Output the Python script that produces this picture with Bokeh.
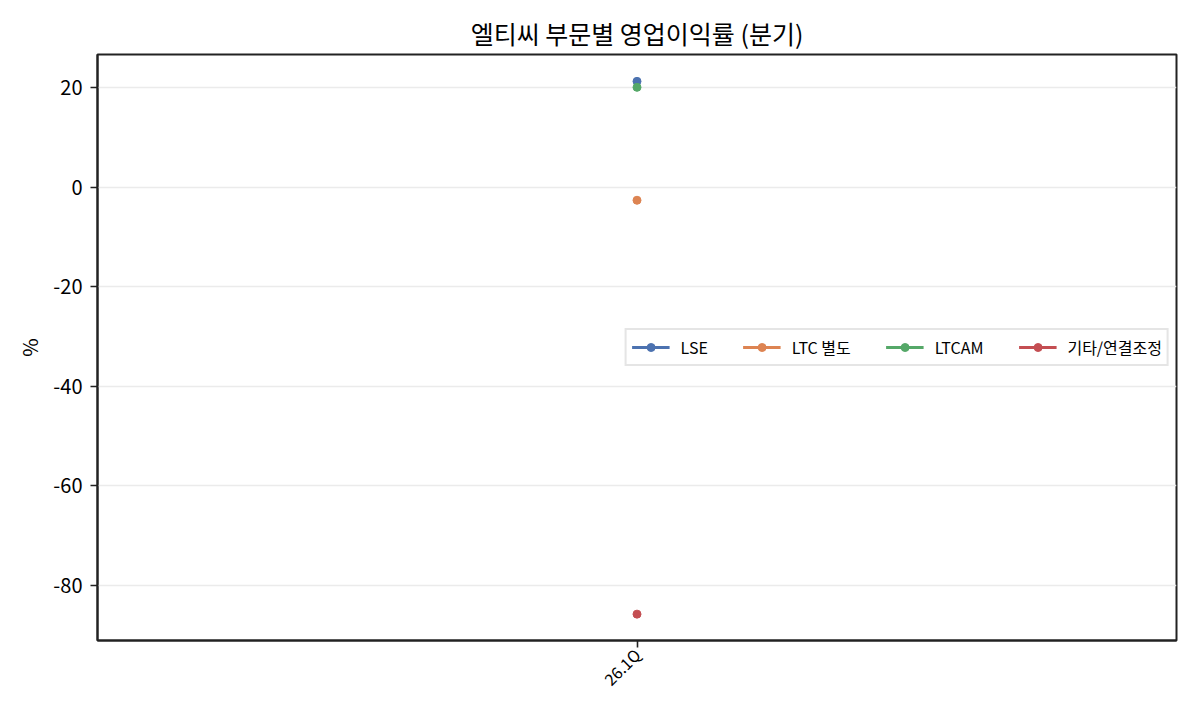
import math

from bokeh.embed import file_html
from bokeh.models import FixedTicker, PrintfTickFormatter, Range1d
from bokeh.plotting import figure
from bokeh.resources import INLINE

FONT = "Noto Sans CJK KR"

# data
quarters = ["26.1Q"]
lse = [21.3]
ltc = [-2.6]
ltcam = [20.1]
other = [-85.8]

series = [
    ("LSE", lse, "#4C72B0"),
    ("LTC 별도", ltc, "#DD8452"),
    ("LTCAM", ltcam, "#55A868"),
    ("기타/연결조정", other, "#C44E52"),
]

p = figure(
    x_range=quarters,
    y_range=Range1d(-91.1, 26.7),
    width=1184,
    height=704,
    title="엘티씨 부문별 영업이익률 (분기)",
    output_backend="svg",
    toolbar_location=None,
    min_border_left=97,
    min_border_right=8,
    min_border_top=54,
    min_border_bottom=64,
)

for name, vals, color in series:
    p.line(quarters, vals, color=color, line_width=3, legend_label=name)
    p.scatter(quarters, vals, color=color, size=8, legend_label=name)

# title
p.title.align = "center"
p.title.text_font = FONT
p.title.text_font_size = "25px"
p.title.text_font_style = "normal"
p.title.text_color = "black"
p.title.standoff = 8

# frame and grid
p.outline_line_color = "#222222"
p.outline_line_width = 2
p.outline_line_alpha = 1
p.xgrid.grid_line_color = None
p.ygrid.grid_line_color = "#ebebeb"
p.ygrid.grid_line_width = 1.6

# axes
p.yaxis.ticker = FixedTicker(ticks=[-80, -60, -40, -20, 0, 20])
p.yaxis.formatter = PrintfTickFormatter(format="%d")
p.yaxis.axis_label = "%"
p.yaxis.axis_label_text_font = FONT
p.yaxis.axis_label_text_font_size = "20px"
p.yaxis.axis_label_text_font_style = "normal"
p.yaxis.axis_label_text_color = "black"
p.yaxis.axis_label_standoff = 6
for ax in (p.xaxis, p.yaxis):
    ax.axis_line_color = "#222222"
    ax.axis_line_width = 2
    ax.major_tick_line_color = "#222222"
    ax.major_tick_line_width = 1.6
    ax.major_tick_out = 7
    ax.major_tick_in = 0
    ax.minor_tick_line_color = None
    ax.major_label_text_font = FONT
    ax.major_label_text_color = "black"
    ax.major_label_standoff = 8
p.yaxis.major_label_text_font_size = "20px"
p.xaxis.major_label_text_font_size = "16px"
p.xaxis.major_label_standoff = 4
p.xaxis.major_label_orientation = math.pi / 4

# legend
p.legend.orientation = "horizontal"
p.legend.location = "right"
p.legend.label_text_font = FONT
p.legend.label_text_font_size = "16px"
p.legend.label_text_color = "black"
p.legend.label_standoff = 11
p.legend.border_line_color = "#cccccc"
p.legend.border_line_width = 2
p.legend.glyph_width = 38
p.legend.spacing = 35
p.legend.padding = 5
p.legend.margin = 7

open("out.html", "w").write(file_html(p, INLINE))
